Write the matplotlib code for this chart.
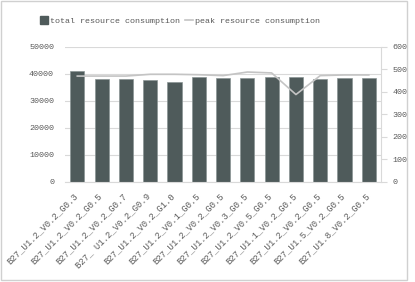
import matplotlib.pyplot as plt
import matplotlib.transforms as mtransforms
from matplotlib.patches import Rectangle
from matplotlib.lines import Line2D

plt.rcParams['font.family'] = ['Liberation Mono', 'DejaVu Sans']
plt.rcParams['font.size'] = 6

# données
labels = ['B27_U1.2_V0.2_G0.3', 'B27_U1.2_V0.2_G0.5', 'B27_U1.2_V0.2_G0.7',
          'B27_ U1.2_V0.2_G0.9', 'B27_U1.2_V0.2_G1.0', 'B27_U1.2_V0.1_G0.5',
          'B27_U1.2_V0.2_G0.5', 'B27_U1.2_V0.3_G0.5', 'B27_U1.2_V0.5_G0.5',
          'B27_U1.1_V0.2_G0.5', 'B27_U1.2_V0.2_G0.5', 'B27_U1.5_V0.2_G0.5',
          'B27_U1.8_V0.2_G0.5']
total = [40900, 38200, 38200, 37700, 37000, 38700, 38300, 38600, 38900,
         38700, 38200, 38600, 38400]
peak = [470, 470, 470, 478, 478, 476, 472, 488, 484, 388, 472, 475, 475]

txt = '#595959'
grid = '#d9d9d9'

fig = plt.figure(figsize=(4.15, 2.82), dpi=100)
fig.patches.append(Rectangle((0.002, 0.006), 0.978, 0.99, transform=fig.transFigure,
                             fill=False, edgecolor='#d0d0d0', linewidth=1))

ax = fig.add_axes([0.157, 0.355, 0.761, 0.479])
x = list(range(len(labels)))
ax.bar(x, total, width=0.58, color='#4f5b5b', edgecolor='#8a9595', linewidth=0.5, zorder=2)
ax.set_ylim(0, 50000)
ax.set_yticks(range(0, 50001, 10000))
ax.set_xlim(-0.5, len(labels) - 0.5)
ax.grid(axis='y', color=grid, linewidth=0.8, zorder=0)
ax.set_axisbelow(True)
for s in ['top', 'right', 'left']:
    ax.spines[s].set_visible(False)
ax.spines['bottom'].set_color(grid)
ax.tick_params(axis='y', length=0, colors=txt, pad=8)
ax.tick_params(axis='x', length=0, colors=txt, pad=6)
ax.set_xticks(x)
ax.set_xticklabels(labels, rotation=45, ha='right', rotation_mode='anchor', fontsize=6.4)
# décalage léger des étiquettes vers la gauche
off = mtransforms.ScaledTranslation(-4 / 100, -1 / 100, fig.dpi_scale_trans)
for lab in ax.get_xticklabels():
    lab.set_transform(lab.get_transform() + off)

ax2 = ax.twinx()
ax2.plot(x, peak, color='#c4c4c4', linewidth=1.2, zorder=3)
ax2.set_ylim(0, 600)
ax2.set_yticks(range(0, 601, 100))
for s in ['top', 'left', 'bottom']:
    ax2.spines[s].set_visible(False)
ax2.spines['right'].set_color(grid)
ax2.tick_params(axis='y', length=4, colors=txt, color=grid, pad=4)

handles = [Rectangle((0, 0), 1, 1, color='#4f5b5b'),
           Line2D([0], [0], color='#c4c4c4', linewidth=1.2)]
fig.legend(handles, ['total resource consumption', 'peak resource consumption'],
           loc='center', bbox_to_anchor=(0.434, 0.927), ncol=2, frameon=False,
           handlelength=1.0, handleheight=1.0, handletextpad=0.2, columnspacing=0.6,
           labelcolor=txt)

fig.savefig('out.png', dpi=100)
